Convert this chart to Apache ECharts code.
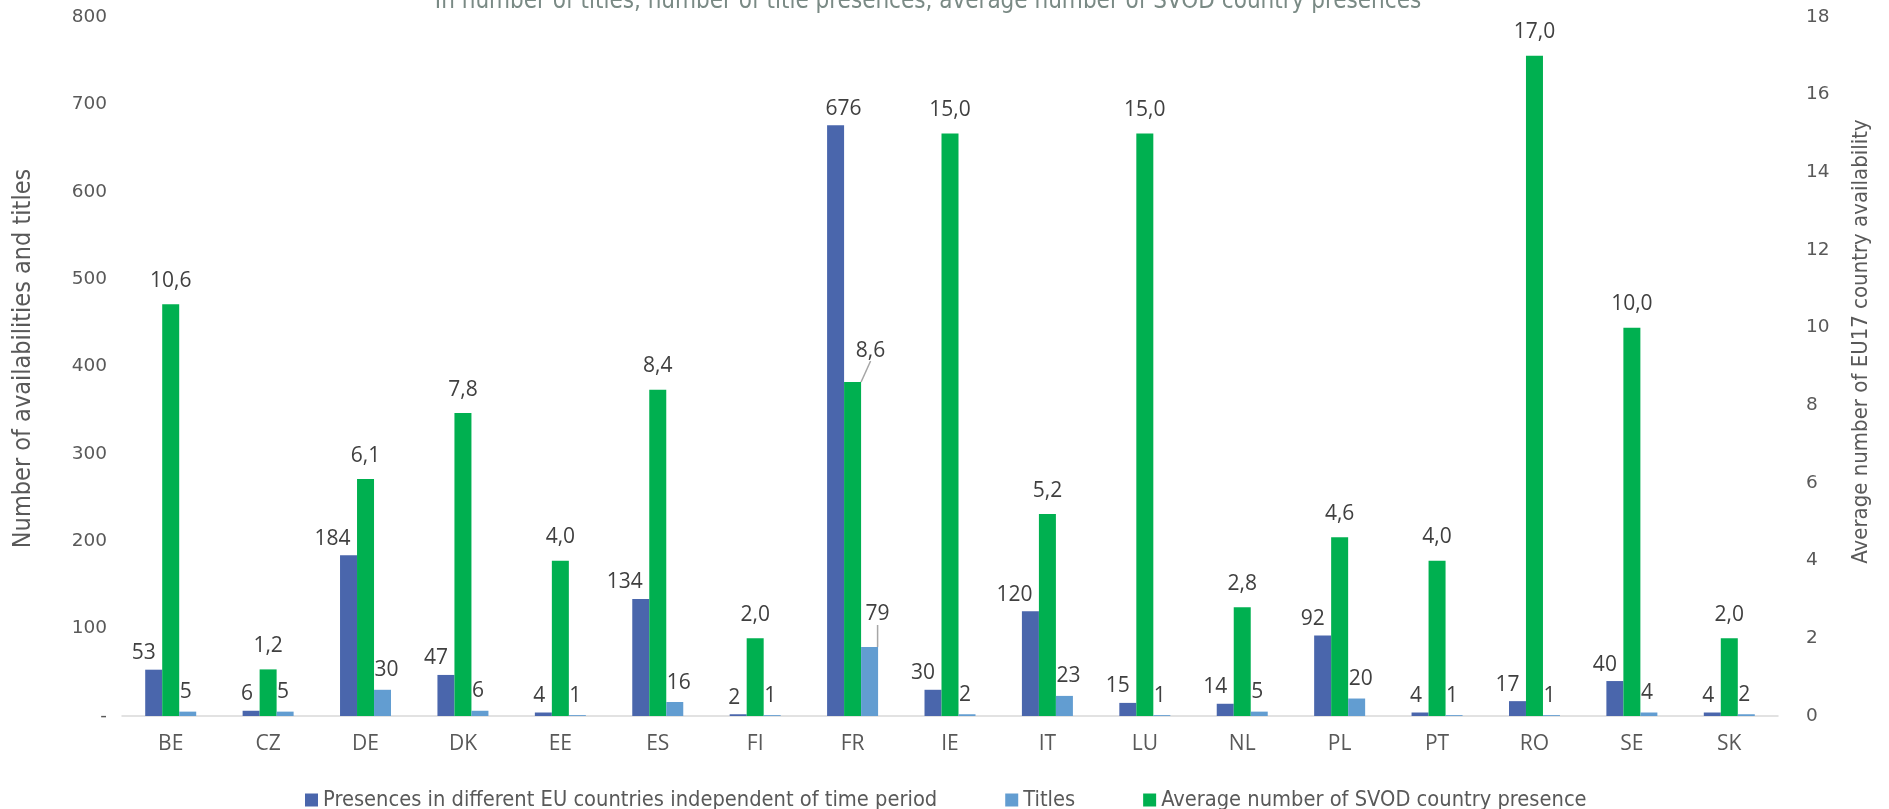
<!DOCTYPE html>
<html>
<head>
<meta charset="utf-8">
<script src="https://cdn.jsdelivr.net/npm/echarts@6/dist/echarts.min.js"></script>
<style>
html,body{margin:0;padding:0;background:#fff;}
#chart{width:1889px;height:809px;}
</style>
</head>
<body>
<div id="chart"></div>
<script>
const categories = ['BE','CZ','DE','DK','EE','ES','FI','FR','IE','IT','LU','NL','PL','PT','RO','SE','SK'];
const presences = [53, 6, 184, 47, 4, 134, 2, 676, 30, 120, 15, 14, 92, 4, 17, 40, 4];
const titles = [5, 5, 30, 6, 1, 16, 1, 79, 2, 23, 1, 5, 20, 1, 1, 4, 2];
const avgPresence = [10.6, 1.2, 6.1, 7.8, 4.0, 8.4, 2.0, 8.6, 15.0, 5.2, 15.0, 2.8, 4.6, 4.0, 17.0, 10.0, 2.0];
const leftTicks = {min: 0, max: 800, interval: 100};
const rightTicks = {min: 0, max: 18, interval: 2};

const seriesNames = [
  'Presences in different EU countries independent of time period',
  'Titles',
  'Average number of SVOD country presence'
];
const titleText = 'In number of titles, number of title presences, average number of SVOD country presences';

const narrow = "'Liberation Sans Narrow', 'DejaVu Sans Condensed', sans-serif";
const labelFont = "'Open Sans', sans-serif";
const tickFont = "'DejaVu Sans', sans-serif";
const frIndex = categories.indexOf('FR');
const leader = {show: true, lineStyle: {color: '#a6a6a6', width: 1.5}};
const withLeader = arr => arr.map((v, i) => i === frIndex ? {value: v, labelLine: leader} : v);

const chart = echarts.init(document.getElementById('chart'));
chart.setOption({
  animation: false,
  backgroundColor: '#ffffff',
  graphic: [{
    type: 'text', x: 928, y: -10,
    style: {text: titleText, textAlign: 'center', textVerticalAlign: 'top',
      font: "24px " + narrow, fill: '#7a8a85'}
  }],
  legend: {
    data: seriesNames,
    left: 300, top: 784,
    itemWidth: 13, itemHeight: 13, itemGap: 68,
    icon: 'rect',
    textStyle: {fontFamily: narrow, fontSize: 21.7, color: '#595959'}
  },
  grid: {left: 122, right: 111, top: 17, bottom: 93, containLabel: false},
  xAxis: {
    type: 'category', data: categories,
    axisLine: {lineStyle: {color: '#d9d9d9', width: 1.5}},
    axisTick: {show: false},
    axisLabel: {fontFamily: labelFont, fontSize: 21, color: '#595959', margin: 18}
  },
  yAxis: [{
    type: 'value', min: leftTicks.min, max: leftTicks.max, interval: leftTicks.interval,
    name: 'Number of availabilities and titles', nameLocation: 'middle', nameGap: 86,
    nameTextStyle: {fontFamily: narrow, fontSize: 25, color: '#595959', padding: [0, 0, 0, 16]},
    splitLine: {show: false}, axisLine: {show: false}, axisTick: {show: false},
    axisLabel: {fontFamily: tickFont, fontSize: 18.5, color: '#595959', margin: 15,
      formatter: v => v === 0 ? '-' : String(v)}
  }, {
    type: 'value', min: rightTicks.min, max: rightTicks.max, interval: rightTicks.interval,
    name: 'Average number of EU17 country availability', nameLocation: 'middle', nameGap: 72,
    nameTextStyle: {fontFamily: narrow, fontSize: 22, color: '#595959', padding: [0, 0, 0, 50]},
    splitLine: {show: false}, axisLine: {show: false}, axisTick: {show: false},
    axisLabel: {fontFamily: tickFont, fontSize: 18.5, color: '#595959', margin: 28}
  }],
  series: [{
    name: seriesNames[0], type: 'bar', yAxisIndex: 0, data: presences,
    barWidth: 17, barGap: '0%',
    itemStyle: {color: '#4a66ac'},
    label: {show: true, position: 'top', distance: 6,
      fontFamily: labelFont, fontSize: 21, color: '#404040'},
    labelLayout: p => ({align: 'right', dx: p.dataIndex === frIndex ? 26 : 2})
  }, {
    name: seriesNames[2], type: 'bar', yAxisIndex: 1, data: withLeader(avgPresence),
    barWidth: 17, barGap: '0%',
    itemStyle: {color: '#00b050'},
    label: {show: true, position: 'top', distance: 13,
      fontFamily: labelFont, fontSize: 21, color: '#404040',
      formatter: p => Number(p.value).toFixed(1).replace('.', ',')},
    labelLine: {show: false},
    labelLayout: p => p.dataIndex === frIndex ? {dx: 18, dy: -8} : {}
  }, {
    name: seriesNames[1], type: 'bar', yAxisIndex: 0, data: withLeader(titles),
    barWidth: 17, barGap: '0%',
    itemStyle: {color: '#629dd1'},
    label: {show: true, position: 'top', distance: 9,
      fontFamily: labelFont, fontSize: 21, color: '#404040'},
    labelLine: {show: false},
    labelLayout: p => p.dataIndex === frIndex ? {align: 'left', dx: -4, dy: -13} : {align: 'left', dx: -8}
  }]
});
</script>
</body>
</html>
